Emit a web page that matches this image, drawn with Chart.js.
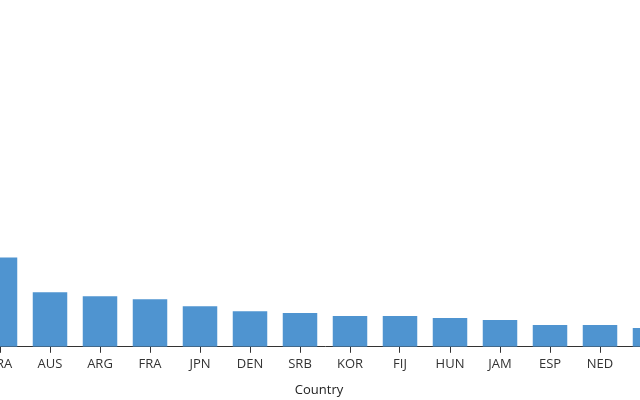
<!DOCTYPE html>
<html>
<head>
<meta charset="utf-8">
<script src="https://cdn.jsdelivr.net/npm/chart.js@4/dist/chart.umd.min.js"></script>
<style>
  html, body { margin: 0; padding: 0; background: #fff; overflow: hidden; }
  .chart-container { position: absolute; left: -37px; top: 0; width: 712px; height: 400px; }
</style>
</head>
<body>
<div class="chart-container"><canvas id="chart"></canvas></div>
<script>
// visible slice of the chart (first and last bars are cut by the window)
const countries = ['BRA', 'AUS', 'ARG', 'FRA', 'JPN', 'DEN', 'SRB', 'KOR', 'FIJ', 'HUN', 'JAM', 'ESP', 'NED', 'ITA'];
const values = [90, 55, 51, 48, 41, 36, 34, 31, 31, 29, 27, 22, 22, 19];
const yMax = 350;

const ctx = document.querySelector('#chart').getContext('2d');
const chart = new Chart(ctx, {
  type: 'bar',
  data: {
    labels: countries,
    datasets: [
      {
        data: values,
        backgroundColor: '#4f94d0',
        categoryPercentage: 1,
        barPercentage: 0.69,
      },
    ],
  },
  options: {
    responsive: true,
    maintainAspectRatio: false,
    animation: false,
    layout: { padding: 0 },
    plugins: {
      legend: { display: false },
      tooltip: { enabled: false },
      // axis title, centred on the whole canvas
      title: {
        display: true,
        position: 'bottom',
        text: 'Country',
        color: '#222',
        font: { family: 'Open Sans', size: 13, weight: 'normal' },
        padding: { top: 6, bottom: 2 },
      },
    },
    scales: {
      x: {
        offset: true,
        grid: { offset: false, drawOnChartArea: false, drawTicks: true, tickLength: 6, color: '#333' },
        border: { color: '#333', width: 1 },
        ticks: { color: '#333', padding: 4, font: { family: 'Open Sans', size: 13 }, maxRotation: 0, autoSkip: false },
      },
      y: {
        min: 0,
        max: yMax,
        grid: { display: false },
        border: { display: false },
        ticks: { display: false },
        afterFit: (scale) => { scale.width = 12; },
      },
    },
  },
});
</script>
</body>
</html>
